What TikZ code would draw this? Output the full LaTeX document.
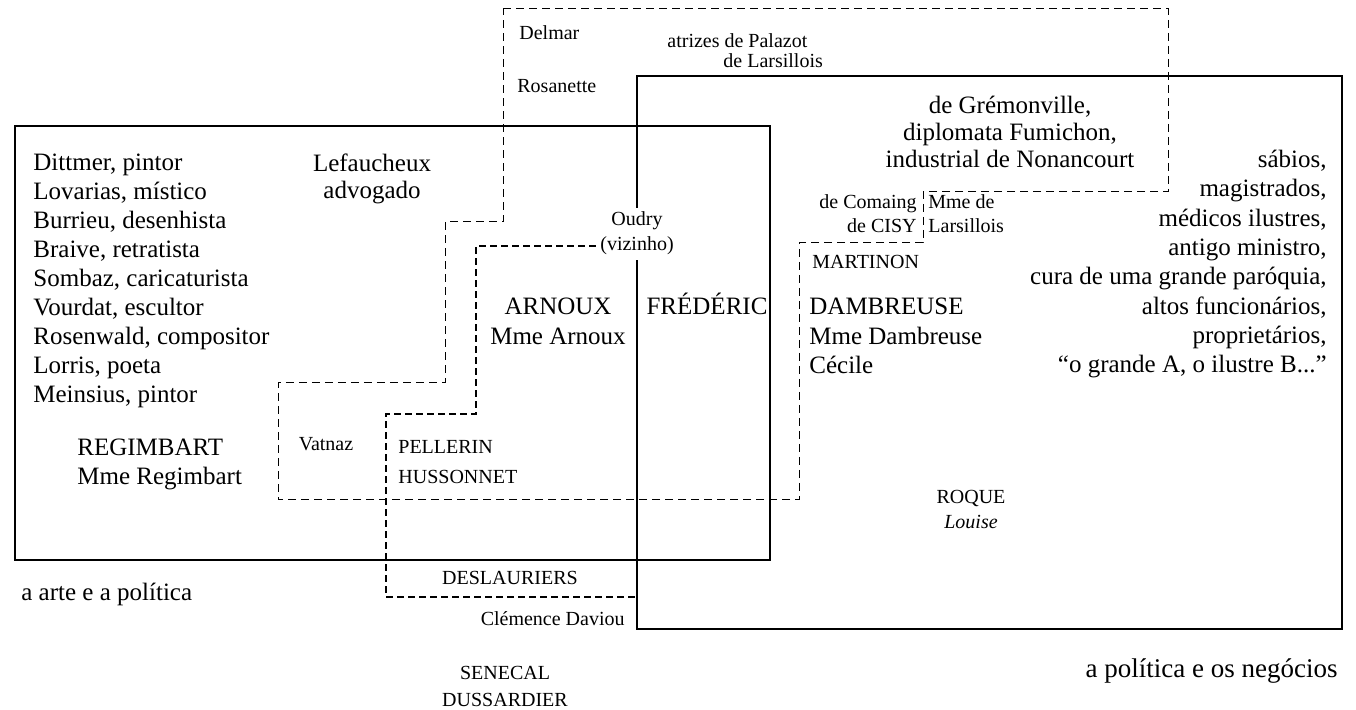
\documentclass[tikz,border=0pt]{standalone}
\usepackage{fontspec}
\setmainfont{Liberation Serif}
\usepackage{tikz}

\begin{document}
\begin{tikzpicture}[x=0.5pt,y=-0.5pt]
\tikzset{big/.style = {font=\fontsize{12.5}{14.5}\selectfont, inner sep=0pt}}
\tikzset{small/.style = {font=\fontsize{10}{12}\selectfont, inner sep=0pt}}
\tikzset{artzone/.style = {draw, line width=0.75pt}}
\tikzset{businesszone/.style = {draw, line width=1pt}}
\tikzset{demizone/.style = {draw, line width=0.5pt, dash pattern=on 4pt off 2.5pt}}
\tikzset{bohemezone/.style = {draw, line width=1pt, dash pattern=on 3.5pt off 2pt}}
\useasboundingbox (0,0) rectangle (1356,710);
\node[big, anchor=base west] (dittmer) at (33,171) {Dittmer, pintor};
\node[big, anchor=base west] (lovarias) at (33,200) {Lovarias, místico};
\node[big, anchor=base west] (burrieu) at (33,229) {Burrieu, desenhista};
\node[big, anchor=base west] (braive) at (33,258) {Braive, retratista};
\node[big, anchor=base west] (sombaz) at (33,287) {Sombaz, caricaturista};
\node[big, anchor=base west] (vourdat) at (33,316) {Vourdat, escultor};
\node[big, anchor=base west] (rosenwald) at (33,345) {Rosenwald, compositor};
\node[big, anchor=base west] (lorris) at (33,374) {Lorris, poeta};
\node[big, anchor=base west] (meinsius) at (33,403) {Meinsius, pintor};
\node[big, anchor=base] (lefaucheux) at (372,172) {Lefaucheux};
\node[big, anchor=base] (advogado) at (372,199) {advogado};
\node[big, anchor=base west] (regimbart) at (77,456) {REGIMBART};
\node[big, anchor=base west] (mregimbart) at (77,485) {Mme Regimbart};
\node[big, anchor=base] (arnoux) at (558,315) {ARNOUX};
\node[big, anchor=base] (marnoux) at (558,345) {Mme Arnoux};
\node[big, anchor=base] (frederic) at (707,315) {FRÉDÉRIC};
\node[big, anchor=base west] (dambreuse) at (809,315) {DAMBREUSE};
\node[big, anchor=base west] (mdambreuse) at (809,345) {Mme Dambreuse};
\node[big, anchor=base west] (cecile) at (809,374) {Cécile};
\node[big, anchor=base] (gremonville) at (1010,114) {de Grémonville,};
\node[big, anchor=base] (fumichon) at (1010,141) {diplomata Fumichon,};
\node[big, anchor=base] (nonancourt) at (1010,168) {industrial de Nonancourt};
\node[big, anchor=base east] (sabios) at (1327,168) {sábios,};
\node[big, anchor=base east] (magistrados) at (1327,197) {magistrados,};
\node[big, anchor=base east] (medicos) at (1327,227) {médicos ilustres,};
\node[big, anchor=base east] (ministro) at (1327,256) {antigo ministro,};
\node[big, anchor=base east] (cura) at (1327,285) {cura de uma grande paróquia,};
\node[big, anchor=base east] (funcionarios) at (1327,315) {altos funcionários,};
\node[big, anchor=base east] (proprietarios) at (1327,344) {proprietários,};
\node[big, anchor=base east] (ilustre) at (1327,373) {“o grande A, o ilustre B...”};
\node[big, anchor=base west] (arte) at (21,601) {a arte e a política};
\node[big, anchor=base east, font=\fontsize{13.5}{15}\selectfont] (negocios) at (1338,678) {a política e os negócios};
\node[small, anchor=base west] (delmar) at (519,40) {Delmar};
\node[small, anchor=base west] (atrizes) at (667,48) {atrizes de Palazot};
\node[small, anchor=base west] (larsillois) at (723,68) {de Larsillois};
\node[small, anchor=base west] (rosanette) at (517,93) {Rosanette};
\node[small, anchor=base, inner sep=2pt] (oudry) at (637,226) {Oudry};
\node[small, anchor=base, inner sep=2pt] (vizinho) at (637,251) {(vizinho)};
\node[small, anchor=base east] (comaing) at (917,209) {de Comaing};
\node[small, anchor=base east] (cisy) at (917,233) {de CISY};
\node[small, anchor=base west] (mmede) at (928,209) {Mme de};
\node[small, anchor=base west] (mlarsillois) at (928,233) {Larsillois};
\node[small, anchor=base west] (martinon) at (812,269) {MARTINON};
\node[small, anchor=base] (vatnaz) at (326,451) {Vatnaz};
\node[small, anchor=base west] (pellerin) at (398,454) {PELLERIN};
\node[small, anchor=base west] (hussonnet) at (398,484) {HUSSONNET};
\node[small, anchor=base] (deslauriers) at (510,585) {DESLAURIERS};
\node[small, anchor=base east] (clemence) at (625,626) {Clémence Daviou};
\node[small, anchor=base] (senecal) at (505,680) {SENECAL};
\node[small, anchor=base] (dussardier) at (505,707) {DUSSARDIER};
\node[small, anchor=base] (roque) at (971,504) {ROQUE};
\node[small, anchor=base] (louise) at (971,529) {\itshape Louise};
\draw[artzone] (15,126) rectangle (770,560);
\draw[businesszone] (oudry.north) -- (637,76) -| (1342,629) -| (vizinho.south);
\draw[demizone] (503,9) -| (1168,192) -| (923,243) -| (799,500) -| (278,383) -| (445,222) -| (503,9);
\draw[bohemezone] (vizinho.west) -| (476,414) -| (386,597) -- (636,597);
\end{tikzpicture}
\end{document}
